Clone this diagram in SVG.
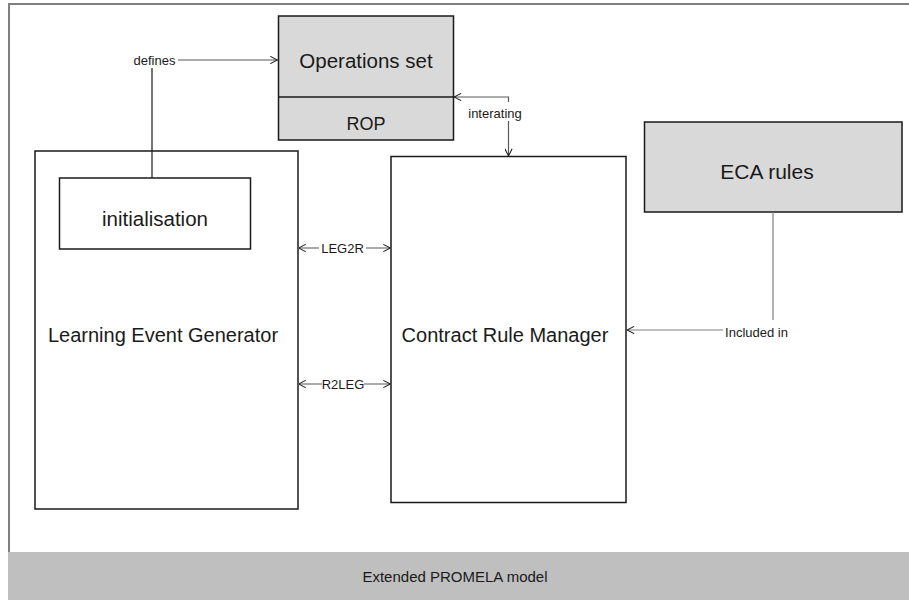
<svg xmlns="http://www.w3.org/2000/svg" width="909" height="600" viewBox="0 0 909 600">
<defs>
<style>
text{font-family:"Liberation Sans",Arial,sans-serif;fill:#1a1a1a;text-anchor:middle}
.box{fill:#ffffff;stroke:#1a1a1a;stroke-width:1.5}
.gbox{fill:#d9d9d9;stroke:#1a1a1a;stroke-width:1.5}
.conn{fill:none;stroke:#595959;stroke-width:1.2}
.lbl{font-size:13px}
.big{font-size:20px}
</style>
<marker id="arr" viewBox="0 0 10 10" refX="10" refY="5" markerWidth="8" markerHeight="8" markerUnits="userSpaceOnUse" orient="auto-start-reverse">
<path d="M1,0.5 L10,5 L1,9.5" fill="none" stroke="#1a1a1a" stroke-width="1.3"/>
</marker>
</defs>
<rect x="0" y="0" width="909" height="600" fill="#ffffff"/>
<g id="frame">
<path d="M9,552 L9,4 L909,4" fill="none" stroke="#7f7f7f" stroke-width="2"/>
<rect x="8" y="552" width="901" height="48" fill="#bfbfbf"/>
<text x="455" y="582" style="font-size:15px">Extended PROMELA model</text>
</g>
<g id="ops">
<rect class="gbox" x="278.5" y="16" width="175" height="124"/>
<line x1="278.5" y1="97" x2="453.5" y2="97" stroke="#1a1a1a" stroke-width="1.5"/>
<text x="366" y="68" style="font-size:20.5px">Operations set</text>
<text x="366" y="130" style="font-size:18px">ROP</text>
</g>
<g id="leg">
<rect class="box" x="35" y="151" width="263" height="358"/>
<text class="big" x="163" y="342">Learning Event Generator</text>
</g>
<g id="init">
<rect class="box" x="59.5" y="178" width="191" height="71"/>
<text x="155" y="226" style="font-size:20.5px">initialisation</text>
</g>
<g id="crm">
<rect class="box" x="391" y="156.5" width="235" height="346"/>
<text class="big" x="505" y="342">Contract Rule Manager</text>
</g>
<g id="eca">
<rect class="gbox" x="644.5" y="122" width="257.5" height="90"/>
<text x="767" y="179" style="font-size:21px">ECA rules</text>
</g>
<g id="connectors">
<path d="M152,178 L152,60" fill="none" stroke="#1a1a1a" stroke-width="1.2"/>
<path class="conn" d="M152,60 L277.5,60" marker-end="url(#arr)"/>
<rect x="131" y="52" width="47" height="16" fill="#ffffff"/>
<text class="lbl" x="154.5" y="65">defines</text>

<path class="conn" d="M508.5,156 L508.5,97 L454,97" marker-start="url(#arr)" marker-end="url(#arr)"/>
<rect x="466" y="102" width="58" height="19" fill="#ffffff"/>
<text class="lbl" x="495" y="118">interating</text>

<path class="conn" d="M298.5,248 L390.5,248" marker-start="url(#arr)" marker-end="url(#arr)"/>
<rect x="319" y="240" width="47" height="16" fill="#ffffff"/>
<text class="lbl" x="342.5" y="253">LEG2R</text>

<path class="conn" d="M298.5,384 L390.5,384" marker-start="url(#arr)" marker-end="url(#arr)"/>
<rect x="322" y="376" width="42" height="16" fill="#ffffff"/>
<text class="lbl" x="343" y="389">R2LEG</text>

<path d="M773,212 L773,330 L627,330" fill="none" stroke="#7f7f7f" stroke-width="1.2" marker-end="url(#arr)"/>
<rect x="723" y="320" width="68" height="21" fill="#ffffff"/>
<text class="lbl" x="756.5" y="337">Included in</text>
</g>
</svg>
